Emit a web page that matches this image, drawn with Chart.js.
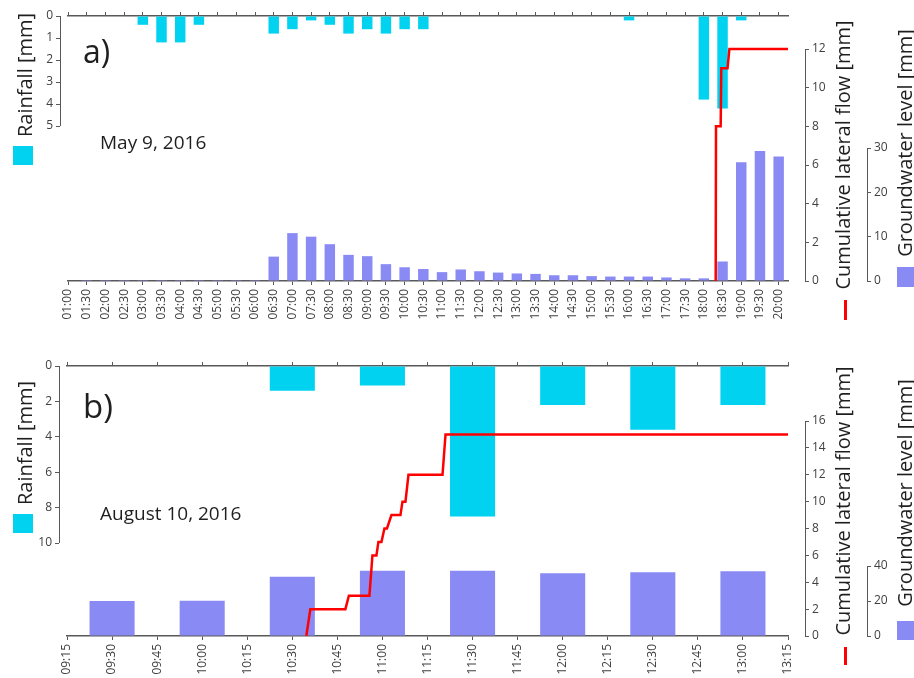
<!DOCTYPE html>
<html>
<head>
<meta charset="utf-8">
<script src="https://cdn.jsdelivr.net/npm/chart.js@4.4.1/dist/chart.umd.min.js"></script>
<style>
  body { margin: 0; background: #fff; font-family: "Open Sans", sans-serif; }
  #page { position: relative; width: 914px; height: 678px; overflow: hidden; }
  .panel { position: absolute; left: 0; }
  .txt { position: absolute; line-height: 1; color: #1f1f1f; white-space: nowrap; }
  .vt { position: absolute; line-height: 1; font-size: 20px; color: #1f1f1f; white-space: nowrap;
        transform: translate(-50%, -50%) rotate(-90deg); }
  .sw { position: absolute; }
</style>
</head>
<body>
<div id="page">
  <canvas id="chartA" class="panel" style="top:0" width="914" height="340"></canvas>
  <canvas id="chartB" class="panel" style="top:340px" width="914" height="338"></canvas>

  <!-- panel a labels -->
  <div class="txt" style="left:83px;top:35px;font-size:32px">a)</div>
  <div class="txt" style="left:100px;top:133px;font-size:19px">May 9, 2016</div>
  <div class="vt" style="left:25px;top:75px">Rainfall [mm]</div>
  <div class="sw" style="left:13px;top:146px;width:20px;height:19px;background:#00d2f0"></div>
  <div class="vt" style="left:843px;top:155px">Cumulative lateral flow [mm]</div>
  <div class="sw" style="left:844px;top:300px;width:3px;height:20px;background:#ff0000"></div>
  <div class="vt" style="left:905px;top:143px">Groundwater level [mm]</div>
  <div class="sw" style="left:897px;top:267px;width:20px;height:20px;background:#8a8af5"></div>

  <!-- panel b labels -->
  <div class="txt" style="left:83px;top:389px;font-size:33px">b)</div>
  <div class="txt" style="left:100px;top:504px;font-size:19px">August 10, 2016</div>
  <div class="vt" style="left:25px;top:443px">Rainfall [mm]</div>
  <div class="sw" style="left:13px;top:514px;width:20px;height:19px;background:#00d2f0"></div>
  <div class="vt" style="left:843px;top:501px">Cumulative lateral flow [mm]</div>
  <div class="sw" style="left:844px;top:647px;width:3px;height:18px;background:#ff0000"></div>
  <div class="vt" style="left:905px;top:493px">Groundwater level [mm]</div>
  <div class="sw" style="left:897px;top:621px;width:20px;height:19px;background:#8a8af5"></div>
</div>

<script>
// ---- panel a: May 9, 2016 ----
const timesA = ['01:00','01:30','02:00','02:30','03:00','03:30','04:00','04:30','05:00','05:30',
  '06:00','06:30','07:00','07:30','08:00','08:30','09:00','09:30','10:00','10:30',
  '11:00','11:30','12:00','12:30','13:00','13:30','14:00','14:30','15:00','15:30',
  '16:00','16:30','17:00','17:30','18:00','18:30','19:00','19:30','20:00'];
const xEndA = '20:15';
const rainA = [0,0,0,0,0.4,1.2,1.2,0.4,0,0,
  0,0.8,0.6,0.2,0.4,0.8,0.6,0.8,0.6,0.6,
  0,0,0,0,0,0,0,0,0,0,
  0.2,0,0,0,3.8,4.2,0.2,0,0];
const gwA = [0,0.2,0.2,0.2,0.2,0.2,0.2,0.2,0.2,0.2,
  0.2,5.5,10.8,10.0,8.3,5.9,5.6,3.8,3.1,2.7,
  2.0,2.6,2.2,1.9,1.7,1.6,1.3,1.3,1.1,1.0,
  1.0,1.0,0.8,0.6,0.6,4.4,26.8,29.3,28.1];
const flowTimesA = ['18:19','18:19:30','18:27','18:28','18:38','18:41','20:15'];
const flowA = [0,8,8,11,11,12,12];
const rainTicksA = [0,1,2,3,4,5];
const flowTicksA = [0,2,4,6,8,10,12];
const gwTicksA = [0,10,20,30];

// ---- panel b: August 10, 2016 ----
const timesB = ['09:15','09:30','09:45','10:00','10:15','10:30','10:45','11:00','11:15',
  '11:30','11:45','12:00','12:15','12:30','12:45','13:00','13:15'];
const xEndB = '13:15';
const barTimesB = ['09:30','10:00','10:30','11:00','11:30','12:00','12:30','13:00'];
const rainB = [0,0,1.4,1.1,8.5,2.2,3.6,2.2];
const gwB = [20.0,20.2,33.9,37.3,37.3,35.8,36.4,37.0];
const flowTimesB = ['10:34:40','10:36','10:47:40','10:48:50','10:55:40','10:56:40','10:58','10:58:40',
  '10:59:40','11:00:40','11:01:30','11:03','11:06','11:06:40','11:07:40','11:08:40','11:20','11:21','13:15'];
const flowB = [0,2,2,3,3,6,6,7,7,8,8,9,9,10,10,12,12,15,15];
const rainTicksB = [0,2,4,6,8,10];
const flowTicksB = [0,2,4,6,8,10,12,14,16];
const gwTicksB = [0,20,40];

const FONT = '"Open Sans", sans-serif';
const TICK_COLOR = '#404040';
const AXIS_COLOR = '#595959';
const CYAN = '#00d2f0';
const PURPLE = '#8a8af5';

function toMin(t, origin) {
  const p = t.split(':').map(Number);
  const o = origin.split(':').map(Number);
  return p[0] * 60 + p[1] + (p[2] || 0) / 60 - (o[0] * 60 + o[1]);
}

// draws each y axis line only between its first and last tick
const axisLines = {
  id: 'axisLines',
  afterDraw(chart) {
    const ctx = chart.ctx;
    ctx.save();
    ctx.strokeStyle = AXIS_COLOR;
    ctx.lineWidth = 1;
    ['yRain', 'yFlow', 'yGw'].forEach(id => {
      const s = chart.scales[id];
      const t = s.ticks;
      const x = Math.round(s.position === 'left' ? s.right : s.left) + 0.5;
      ctx.beginPath();
      ctx.moveTo(x, s.getPixelForValue(t[0].value));
      ctx.lineTo(x, s.getPixelForValue(t[t.length - 1].value));
      ctx.stroke();
    });
    ctx.restore();
  }
};

function xAxis(pos, tickVals, labels, xMax, height, showLabels) {
  return {
    type: 'linear', position: pos, min: 0, max: xMax, offset: false,
    afterBuildTicks: s => { s.ticks = tickVals.map(v => ({ value: v })); },
    afterFit: s => { s.height = height; },
    grid: { drawOnChartArea: false, offset: false, tickLength: 4, color: AXIS_COLOR },
    border: { display: true, color: AXIS_COLOR, width: 1.5 },
    ticks: {
      display: showLabels, autoSkip: false, minRotation: 90, maxRotation: 90, padding: 4,
      color: TICK_COLOR, font: { family: FONT, size: 12 },
      callback: (v, i) => labels[i] || ''
    }
  };
}

function yAxis(pos, weight, width, ticks, axisH, plotH, reverse) {
  return {
    type: 'linear', position: pos, weight: weight, reverse: !!reverse,
    min: 0, max: ticks[ticks.length - 1] * plotH / axisH,
    afterBuildTicks: s => { s.ticks = ticks.map(v => ({ value: v })); },
    afterFit: s => { s.width = width; },
    grid: { drawOnChartArea: false, tickLength: 4, color: AXIS_COLOR },
    border: { display: false },
    ticks: { color: TICK_COLOR, padding: 3, font: { family: FONT, size: 12 } }
  };
}

function spacer(pos, width) {
  return {
    type: 'linear', position: pos, weight: 0, min: 0, max: 1,
    ticks: { display: false }, grid: { display: false }, border: { display: false },
    afterFit: s => { s.width = width; }
  };
}

function buildPanel(id, d) {
  const x0 = d.times[0];
  const tickVals = d.times.map(t => toMin(t, x0));
  const xMax = toMin(d.xEnd, x0);
  const barX = d.barTimes.map(t => toMin(t, x0));

  return new Chart(document.getElementById(id), {
    type: 'bar',
    data: {
      datasets: [
        {
          type: 'line', label: 'Cumulative lateral flow',
          data: d.flowTimes.map((t, i) => ({ x: toMin(t, x0), y: d.flow[i] })),
          xAxisID: 'x', yAxisID: 'yFlow',
          borderColor: '#ff0000', borderWidth: 2.5, pointRadius: 0, tension: 0, order: 0
        },
        {
          type: 'bar', label: 'Rainfall',
          data: barX.map((x, i) => ({ x: x, y: d.rain[i] })),
          xAxisID: 'x', yAxisID: 'yRain', backgroundColor: CYAN, inflateAmount: 0,
          grouped: false, categoryPercentage: 1, barPercentage: d.barPct, order: 1
        },
        {
          type: 'bar', label: 'Groundwater level',
          data: barX.map((x, i) => ({ x: x, y: d.gw[i] })),
          xAxisID: 'x', yAxisID: 'yGw', backgroundColor: PURPLE, inflateAmount: 0,
          grouped: false, categoryPercentage: 1, barPercentage: d.barPct, order: 2
        }
      ]
    },
    options: {
      responsive: false,
      animation: false,
      layout: { padding: 0 },
      plugins: { legend: { display: false }, tooltip: { enabled: false } },
      scales: {
        x: xAxis('bottom', tickVals, d.times, xMax, d.bottomH, true),
        x2: xAxis('top', tickVals, d.times, xMax, d.topH, false),
        yPadL: spacer('left', 8),
        yRain: yAxis('left', 1, d.leftW - 8, d.rainTicks, d.rainH, d.plotH, true),
        yPadR: spacer('right', 17),
        yFlow: yAxis('right', 1, 62, d.flowTicks, d.flowH, d.plotH),
        yGw: yAxis('right', 2, 47, d.gwTicks, d.gwH, d.plotH)
      }
    },
    plugins: [axisLines]
  });
}

// bar width is a share of the smallest tick/bar spacing (30 min in a, 15 min in b)
buildPanel('chartA', {
  times: timesA, xEnd: xEndA, barTimes: timesA,
  rain: rainA, gw: gwA, flowTimes: flowTimesA, flow: flowA,
  rainTicks: rainTicksA, flowTicks: flowTicksA, gwTicks: gwTicksA,
  leftW: 68, topH: 16, bottomH: 59, plotH: 265,
  rainH: 110, flowH: 232, gwH: 133, barPct: 0.56
});

buildPanel('chartB', {
  times: timesB, xEnd: xEndB, barTimes: barTimesB,
  rain: rainB, gw: gwB, flowTimes: flowTimesB, flow: flowB,
  rainTicks: rainTicksB, flowTicks: flowTicksB, gwTicks: gwTicksB,
  leftW: 67, topH: 26, bottomH: 42, plotH: 270,
  rainH: 177, flowH: 215, gwH: 70, barPct: 1.0
});
</script>
</body>
</html>
